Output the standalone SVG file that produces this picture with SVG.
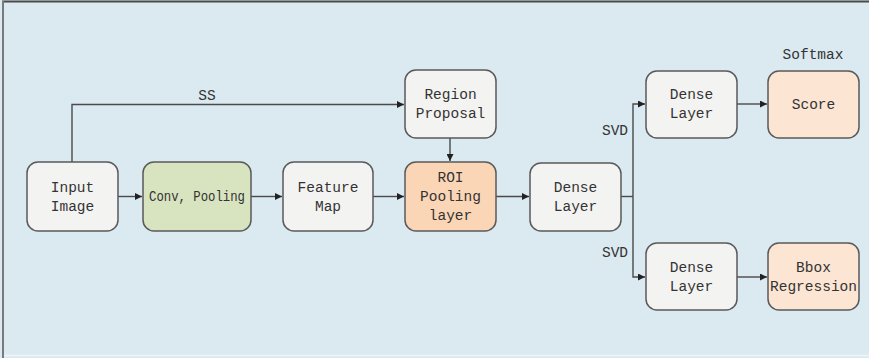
<svg xmlns="http://www.w3.org/2000/svg" width="869" height="358" viewBox="0 0 869 358">
  <style>
    .box { stroke: #5a5a5a; stroke-width: 1.5; }
    .plain { fill: #f3f3f2; }
    .green { fill: #d8e3bf; }
    .peach { fill: #fbd6b6; }
    .light { fill: #fce5d3; }
    text { font-family: "Liberation Mono", "DejaVu Sans Mono", monospace; font-size: 14.5px; fill: #333; text-anchor: middle; }
    .wire { fill: none; stroke: #4a4a4a; stroke-width: 1.4; }
  </style>
  <defs>
    <marker id="arrow" viewBox="0 0 10 10" refX="10" refY="5" markerWidth="7" markerHeight="7" markerUnits="userSpaceOnUse" orient="auto">
      <path d="M0,0 L10,5 L0,10 z" fill="#222"/>
    </marker>
  </defs>

  <!-- canvas -->
  <rect x="0" y="0" width="869" height="358" fill="#dbe9f1"/>
  <line x1="2" y1="1.5" x2="869" y2="1.5" stroke="#4a4a4a" stroke-width="2"/>
  <line x1="3" y1="1" x2="3" y2="358" stroke="#7a7a7a" stroke-width="2"/>
  <line x1="4" y1="355.5" x2="869" y2="355.5" stroke="#eef5f8" stroke-width="1.5"/>

  <g id="connectors">
    <path class="wire" d="M72,162 V104.5 H404" marker-end="url(#arrow)"/>
    <path class="wire" d="M450,138 V161" marker-end="url(#arrow)"/>
    <path class="wire" d="M118,196.5 H142" marker-end="url(#arrow)"/>
    <path class="wire" d="M251,196.5 H282" marker-end="url(#arrow)"/>
    <path class="wire" d="M373,196.5 H404" marker-end="url(#arrow)"/>
    <path class="wire" d="M496,196.5 H529" marker-end="url(#arrow)"/>
    <path class="wire" d="M621,196.5 H633"/>
    <path class="wire" d="M633,196.5 V104 H645" marker-end="url(#arrow)"/>
    <path class="wire" d="M633,196.5 V277 H645" marker-end="url(#arrow)"/>
    <path class="wire" d="M737,104 H767" marker-end="url(#arrow)"/>
    <path class="wire" d="M737,277 H767" marker-end="url(#arrow)"/>
    <text x="207" y="100">SS</text>
    <text x="615" y="135">SVD</text>
    <text x="615" y="257">SVD</text>
    <text x="813" y="59">Softmax</text>
  </g>

  <g id="input-image">
    <rect class="box plain" x="27" y="162" width="91" height="69" rx="11"/>
    <text x="72.5" y="192">Input</text>
    <text x="72.5" y="211">Image</text>
  </g>

  <g id="conv-pooling">
    <rect class="box green" x="143" y="162" width="108" height="69" rx="11"/>
    <text x="197" y="201" textLength="96" lengthAdjust="spacingAndGlyphs">Conv, Pooling</text>
  </g>

  <g id="feature-map">
    <rect class="box plain" x="283" y="162" width="90" height="69" rx="11"/>
    <text x="328" y="192">Feature</text>
    <text x="328" y="211">Map</text>
  </g>

  <g id="region-proposal">
    <rect class="box plain" x="405" y="70" width="91" height="68" rx="11"/>
    <text x="450.5" y="99">Region</text>
    <text x="450.5" y="118">Proposal</text>
  </g>

  <g id="roi-pooling">
    <rect class="box peach" x="405" y="162" width="91" height="69" rx="11"/>
    <text x="450.5" y="182">ROI</text>
    <text x="450.5" y="201">Pooling</text>
    <text x="450.5" y="220">layer</text>
  </g>

  <g id="dense-mid">
    <rect class="box plain" x="530" y="163" width="91" height="68" rx="11"/>
    <text x="575.5" y="192">Dense</text>
    <text x="575.5" y="211">Layer</text>
  </g>

  <g id="dense-top">
    <rect class="box plain" x="646" y="71" width="91" height="67" rx="11"/>
    <text x="691.5" y="99">Dense</text>
    <text x="691.5" y="118">Layer</text>
  </g>

  <g id="score">
    <rect class="box light" x="768" y="71" width="91" height="67" rx="11"/>
    <text x="813.5" y="109">Score</text>
  </g>

  <g id="dense-bottom">
    <rect class="box plain" x="646" y="243" width="91" height="67" rx="11"/>
    <text x="691.5" y="272">Dense</text>
    <text x="691.5" y="291">Layer</text>
  </g>

  <g id="bbox-regression">
    <rect class="box light" x="768" y="243" width="91" height="67" rx="11"/>
    <text x="813.5" y="272">Bbox</text>
    <text x="813.5" y="291">Regression</text>
  </g>
</svg>
